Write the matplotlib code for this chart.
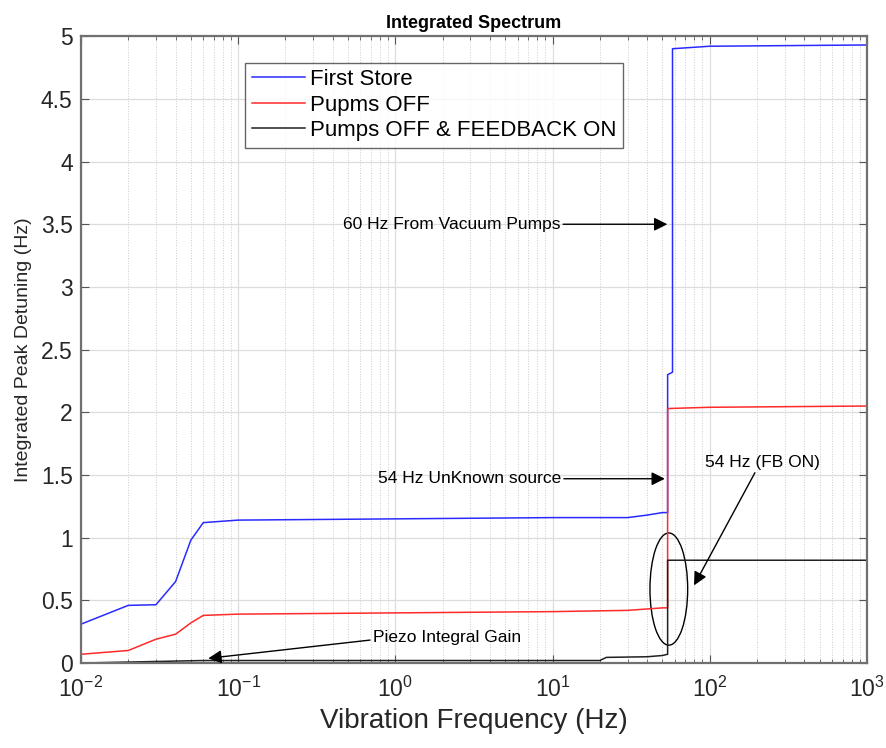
import numpy as np
import matplotlib
matplotlib.use("Agg")
import matplotlib.pyplot as plt
from matplotlib.patches import Ellipse

plt.rcParams['font.family'] = ['Liberation Sans', 'DejaVu Sans']
plt.rcParams['mathtext.fontset'] = 'custom'
plt.rcParams['mathtext.rm'] = 'Liberation Sans'
plt.rcParams['mathtext.it'] = 'Liberation Sans'

# values
freq_store = [0.01, 0.02, 0.03, 0.04, 0.05, 0.06, 0.1, 1, 10, 30, 40, 50, 54, 54, 58, 58, 100, 1000]
first_store = [0.31, 0.46, 0.465, 0.65, 0.98, 1.12, 1.14, 1.15, 1.16, 1.16, 1.18, 1.20, 1.20, 2.30, 2.32, 4.90, 4.92, 4.93]

freq_off = [0.01, 0.02, 0.03, 0.04, 0.05, 0.06, 0.1, 1, 10, 30, 50, 54, 54, 100, 1000]
pumps_off = [0.07, 0.10, 0.19, 0.23, 0.32, 0.38, 0.39, 0.40, 0.41, 0.42, 0.44, 0.44, 2.03, 2.04, 2.05]

freq_fb = [0.01, 0.06, 1, 20, 22, 40, 50, 54, 54, 1000]
pumps_off_fb = [0.0, 0.02, 0.02, 0.02, 0.045, 0.05, 0.06, 0.07, 0.82, 0.82]

labels = ['First Store', 'Pupms OFF', 'Pumps OFF & FEEDBACK ON']

fig = plt.figure(figsize=(8.86, 7.48), dpi=100)
ax = fig.add_axes([0.0914, 0.1136, 0.887, 0.838])

ax.plot(freq_store, first_store, color='#2a2aff', lw=1.1, label=labels[0])
ax.plot(freq_off, pumps_off, color='#ff2a2a', lw=1.1, label=labels[1])
ax.plot(freq_fb, pumps_off_fb, color='#202020', lw=1.1, label=labels[2])

ax.set_xscale('log')
ax.set_xlim(1e-2, 1e3)
ax.set_ylim(0, 5)
ax.set_yticks(np.arange(0, 5.01, 0.5))
ax.set_yticklabels(['0', '0.5', '1', '1.5', '2', '2.5', '3', '3.5', '4', '4.5', '5'])

ax.grid(True, which='major', color='#dddddd', lw=0.9)
ax.grid(True, which='minor', axis='x', color='#cccccc', lw=0.7, ls=':')
ax.set_axisbelow(True)
ax.tick_params(which='both', direction='in', top=True, right=True, colors='#555555', labelcolor='#262626')
ax.tick_params(which='major', length=6, labelsize=16.5)
ax.tick_params(which='minor', length=3)
ax.tick_params(axis='x', pad=10)
ax.tick_params(axis='y', pad=6)
for s in ax.spines.values():
    s.set_color('#707070')
    s.set_linewidth(1.6)

ax.set_title('Integrated Spectrum', fontsize=13, fontweight='bold', pad=6)
ax.set_xlabel('Vibration Frequency (Hz)', fontsize=20, color='#262626', labelpad=4)
ax.set_ylabel('Integrated Peak Detuning (Hz)', fontsize=14, color='#262626', labelpad=6)

leg = ax.legend(loc='upper left', bbox_to_anchor=(0.209, 0.958), fontsize=16,
                frameon=True, fancybox=False, edgecolor='#404040', handlelength=2.4,
                borderpad=0.3, labelspacing=0.2, handletextpad=0.2, borderaxespad=0)
leg.get_frame().set_linewidth(1.0)

arrow = dict(arrowstyle='-|>', color='black', lw=1.0, mutation_scale=20, shrinkA=0)
ax.annotate('60 Hz From Vacuum Pumps', xy=(56, 3.5), xytext=(0.464, 3.5),
            fontsize=12.5, va='center', ha='left', arrowprops=dict(arrow, relpos=(0.93, 0.5)))
ax.annotate('54 Hz UnKnown source', xy=(54, 1.47), xytext=(0.774, 1.47),
            fontsize=12.5, va='center', ha='left', arrowprops=dict(arrow, relpos=(0.93, 0.5)))
ax.annotate('Piezo Integral Gain', xy=(0.062, 0.035), xytext=(0.721, 0.207),
            fontsize=12.5, va='center', ha='left', arrowprops=dict(arrow, relpos=(-0.02, 0.3)))
ax.annotate('54 Hz (FB ON)', xy=(78, 0.6), xytext=(93, 1.60),
            fontsize=12.5, va='center', ha='left', arrowprops=dict(arrow, relpos=(0.45, 0.0)))

ax.add_patch(Ellipse((0.748, 0.118), 0.048, 0.179, transform=ax.transAxes,
                     fill=False, edgecolor='black', lw=1.0))

fig.savefig('out.png', dpi=100)
